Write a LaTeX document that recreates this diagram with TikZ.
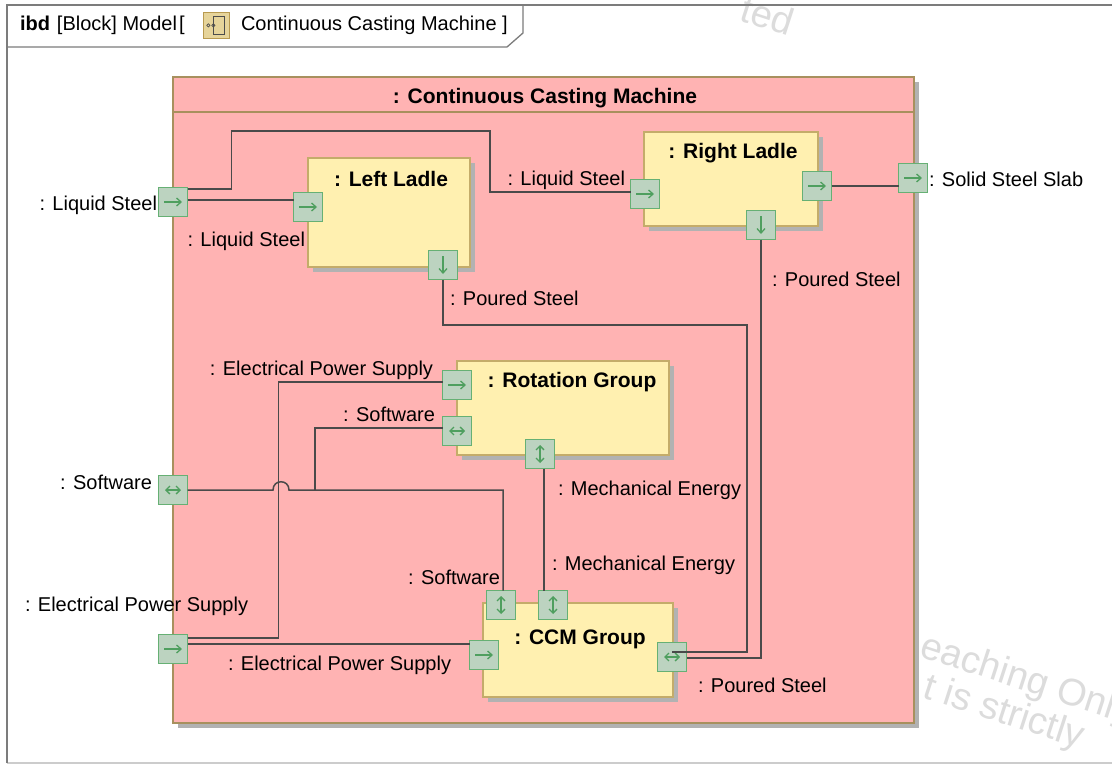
\documentclass[tikz,border=0pt]{standalone}
\usepackage{fontspec}
\setmainfont{Liberation Sans}
\usetikzlibrary{arrows.meta,shadows}
\definecolor{pinkfill}{HTML}{FFB3B3}
\definecolor{pinkedge}{HTML}{A8905E}
\definecolor{partfill}{HTML}{FFF0B0}
\definecolor{partedge}{HTML}{C4AC6A}
\definecolor{shadowgrey}{HTML}{B2B2B2}
\definecolor{portfill}{HTML}{BCD3C0}
\definecolor{portedge}{HTML}{66B074}
\definecolor{arrowgreen}{HTML}{4F9F5F}
\definecolor{wire}{HTML}{4A4A4A}
\definecolor{framegrey}{HTML}{7C7C7C}
\definecolor{framelight}{HTML}{CCCCCC}
\definecolor{wmgrey}{HTML}{DCDCDC}
\definecolor{iconfill}{HTML}{E6D49A}
\definecolor{iconedge}{HTML}{B89A50}
\begin{document}
\begin{tikzpicture}[x=1pt,y=-1pt,
  lbl/.style={font=\fontsize{20}{24}\selectfont, inner sep=0pt, outer sep=0pt},
  ttl/.style={font=\bfseries\fontsize{21}{25}\selectfont, inner sep=0pt, outer sep=0pt},
  wm/.style={font=\fontsize{38}{44}\selectfont, text=wmgrey, inner sep=0pt, rotate=-18, anchor=base west},
  port/.style={draw=portedge, fill=portfill, line width=1.4pt, minimum size=29pt, inner sep=0pt, outer sep=0pt},
  shd/.style={drop shadow={shadow xshift=5pt, shadow yshift=-5pt, fill=shadowgrey, opacity=1}},
  part/.style={draw=partedge, fill=partfill, line width=1.3pt, anchor=north west, inner sep=0pt, outer sep=0pt, shd},
  conn/.style={draw=wire, line width=1.5pt},
  pa/.style={draw=arrowgreen, line width=1.3pt, -{Straight Barb[length=4.5pt,width=8pt]}},
  pb/.style={draw=arrowgreen, line width=1.3pt, {Straight Barb[length=4pt,width=8pt]}-{Straight Barb[length=4pt,width=8pt]}}
]
\useasboundingbox (0,0) rectangle (1112,765);
\clip (0,0) rectangle (1112,765);
\fill[white] (0,0) rectangle (1112,765);

% watermark
\node[wm] (wmA) at (738,20) {ted};
\node[wm] (wmB) at (918,656) {eaching Only};
\node[wm] (wmC) at (921,697) {t is strictly};

% frame
\draw[framelight, line width=1.3pt] (7,763) -- (1120,763);
\draw[framegrey, line width=1.8pt] (7,763) -- (7,5) -- (1120,5);
\draw[framegrey, line width=1.3pt] (7,47) -- (507,47) -- (523,33) -- (523,5);
\node[lbl, anchor=mid west] (hdrA) at (20,28) {\textbf{ibd}\hspace{7pt}[Block] Model\hspace{2pt}[};
\node[draw=iconedge, fill=iconfill, line width=0.8pt, minimum width=26pt, minimum height=26pt, inner sep=0pt, anchor=north west] (icon) at (203,12) {};
\draw[black!70, line width=0.8pt] ([xshift=-3pt,yshift=9pt]icon.center) rectangle ([xshift=8pt,yshift=-9pt]icon.center);
\draw[black!70, line width=0.7pt] ([xshift=-8pt]icon.center) circle (1.6pt) ([xshift=-3pt]icon.center) circle (1.6pt);
\node[lbl, anchor=mid west] (hdrB) at (241,28) {Continuous Casting Machine ]};

% main block
\node[draw=pinkedge, fill=pinkfill, line width=1.3pt, anchor=north west, minimum width=741pt, minimum height=646pt, inner sep=0pt, outer sep=0pt, shd] (ccm) at (173,77) {};
\draw[pinkedge, line width=1.3pt] ([yshift=-35pt]ccm.north west) -- ([yshift=-35pt]ccm.north east);
\node[ttl] (ccmT) at (545,98) {: Continuous Casting Machine};

% parts
\node[part, minimum width=162pt, minimum height=109pt] (ll) at (308,158) {};
\node[ttl] (llT) at (391,179) {: Left Ladle};
\node[part, minimum width=174pt, minimum height=94pt] (rl) at (644,132) {};
\node[ttl] (rlT) at (733,153) {: Right Ladle};
\node[part, minimum width=212pt, minimum height=94pt] (rg) at (457,361) {};
\node[ttl] (rgT) at (572,382) {: Rotation Group};
\node[part, minimum width=190pt, minimum height=94pt] (cg) at (483,603) {};
\node[ttl] (cgT) at (580,639) {: CCM Group};

% ports
\node[port] (pLS) at (173,202) {};
\node[port] (pSW) at (173,490) {};
\node[port] (pEPS) at (173,649) {};
\node[port] (pSlab) at (913,178) {};
\node[port] (pLLin) at (308,207) {};
\node[port] (pLLout) at (443,265) {};
\node[port] (pRLin) at (645,194) {};
\node[port] (pRLout) at (817,186) {};
\node[port] (pRLdown) at (761,225) {};
\node[port] (pRGelec) at (457,385) {};
\node[port] (pRGsw) at (457,431) {};
\node[port] (pRGmech) at (540,454) {};
\node[port] (pCCMsw) at (501,605) {};
\node[port] (pCCMmech) at (553,605) {};
\node[port] (pCCMelec) at (484,655) {};
\node[port] (pCCMps) at (672,657) {};

\foreach \p in {pLS,pLLin,pRLin,pRLout,pSlab,pRGelec,pEPS,pCCMelec}
  \draw[pa] ([xshift=-9pt]\p.center) -- ([xshift=9pt]\p.center);
\foreach \p in {pLLout,pRLdown}
  \draw[pa] ([yshift=9pt]\p.center) -- ([yshift=-9pt]\p.center);
\foreach \p in {pRGsw,pSW,pCCMps}
  \draw[pb] ([xshift=-8pt]\p.center) -- ([xshift=8pt]\p.center);
\foreach \p in {pRGmech,pCCMsw,pCCMmech}
  \draw[pb] ([yshift=9pt]\p.center) -- ([yshift=-9pt]\p.center);

% connectors
\draw[conn] ([yshift=13pt]pLS.east) -- ++(44,0) |- (490,131) |- ([yshift=2pt]pRLin.west);
\draw[conn] ([yshift=2pt]pLS.east) -- ([yshift=2pt]pLS.east -| pLLin.west);
\draw[conn] (pRLout.east) -- (pRLout.east -| pSlab.west);
\draw[conn] (pLLout.south) |- (747,325) |- ([yshift=5pt]pCCMps.center);
\draw[conn] (pRLdown.south) |- ([yshift=-1pt]pCCMps.east);
\draw[conn] ([yshift=11pt]pEPS.east) -- ++(91,0) |- ([yshift=3pt]pRGelec.west);
\draw[conn] ([yshift=5pt]pEPS.east) -- ([yshift=5pt]pEPS.east -| pCCMelec.west);
\draw[conn] (pSW.east) -- (273,490) .. controls (273,479) and (289,479) .. (289,490) -| ([xshift=2pt]pCCMsw.north);
\coordinate (jSW) at (315,490);
\draw[conn] (jSW) |- ([yshift=3pt]pRGsw.west);
\draw[conn] ([xshift=4pt]pRGmech.south) -- ([xshift=4pt]pRGmech.south |- pCCMmech.north);

% labels
\node[lbl, anchor=mid east] (lA) at (157,208) {: Liquid Steel};
\node[lbl, anchor=mid east] (lB) at (305,244) {: Liquid Steel};
\node[lbl, anchor=mid east] (lC) at (625,183) {: Liquid Steel};
\node[lbl, anchor=mid west] (lD) at (450,303) {: Poured Steel};
\node[lbl, anchor=mid west] (lE) at (772,284) {: Poured Steel};
\node[lbl, anchor=mid west] (lF) at (929,184) {: Solid Steel Slab};
\node[lbl, anchor=mid east] (lG) at (433,373) {: Electrical Power Supply};
\node[lbl, anchor=mid east] (lH) at (435,419) {: Software};
\node[lbl, anchor=mid east] (lI) at (152,487) {: Software};
\node[lbl, anchor=mid west] (lJ) at (25,609) {: Electrical Power Supply};
\node[lbl, anchor=mid west] (lK) at (228,668) {: Electrical Power Supply};
\node[lbl, anchor=mid east] (lL) at (500,582) {: Software};
\node[lbl, anchor=mid west] (lM) at (558,493) {: Mechanical Energy};
\node[lbl, anchor=mid west] (lN) at (552,568) {: Mechanical Energy};
\node[lbl, anchor=mid west] (lO) at (698,690) {: Poured Steel};
\end{tikzpicture}
\end{document}
